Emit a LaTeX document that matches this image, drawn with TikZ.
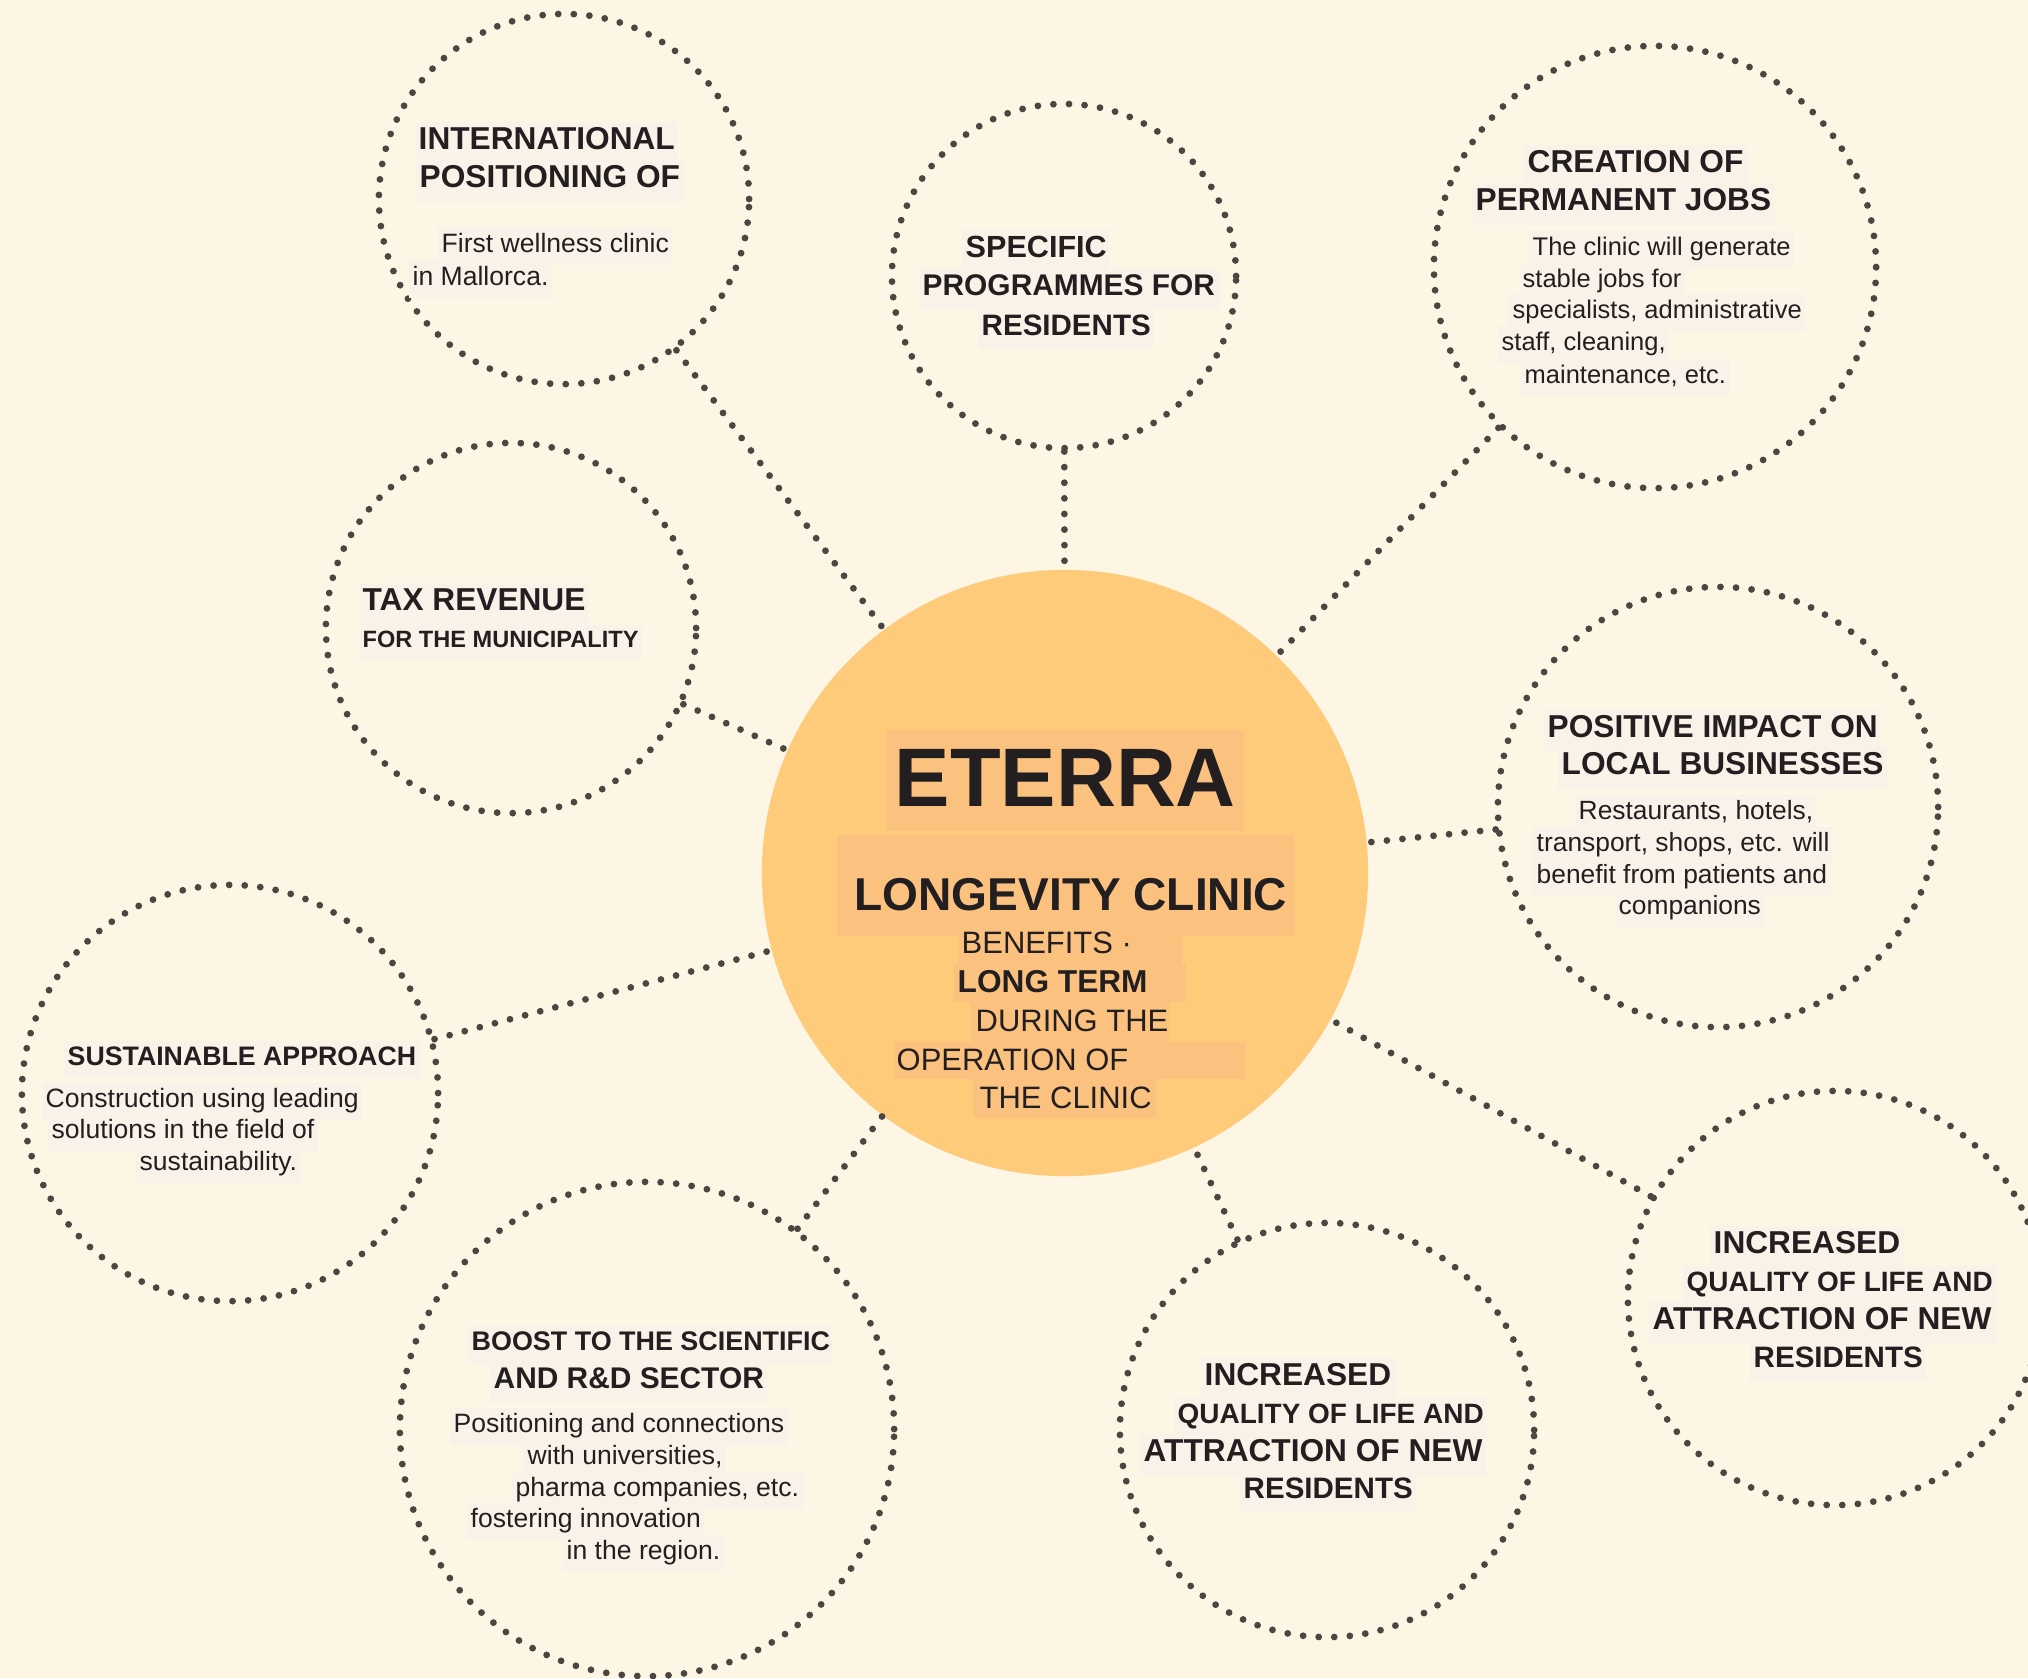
\documentclass[tikz,border=0pt]{standalone}
\usepackage{fontspec}
\setmainfont{Liberation Sans}
\definecolor{bgc}{HTML}{FEF6E4}
\definecolor{sunc}{HTML}{FDCB7A}
\definecolor{markc}{HTML}{FBC27F}
\definecolor{inkc}{HTML}{231F20}
\definecolor{dotc}{HTML}{4B4642}
\definecolor{shadec}{HTML}{FAF2E8}
\begin{document}
\begin{tikzpicture}[x=0.01cm, y=-0.01cm,
  bubble/.style={circle, draw=dotc, line width=0.068cm, dash pattern=on 0pt off 0.156cm, line cap=round, inner sep=0pt, minimum size=#1},
  link/.style={draw=dotc, line width=0.068cm, dash pattern=on 0pt off 0.156cm, line cap=round},
  hd/.style={anchor=base west, xshift=-1pt, inner xsep=1pt, inner ysep=1.5pt, fill=shadec, text=inkc, font=\fontsize{#1pt}{#1pt}\selectfont\bfseries, execute at begin node=\strut},
  tx/.style={anchor=base west, xshift=-1pt, inner xsep=1pt, inner ysep=1.5pt, fill=shadec, text=inkc, font=\fontsize{#1pt}{#1pt}\selectfont, execute at begin node=\strut},
  cbf/.style={anchor=base west, inner sep=0pt, text=inkc, font=\fontsize{#1pt}{#1pt}\selectfont\bfseries},
  ctx/.style={anchor=base west, inner sep=0pt, text=inkc, font=\fontsize{#1pt}{#1pt}\selectfont}]
% Hintergrund
\clip (0,0) rectangle (2028,1678);
\fill[bgc] (0,0) rectangle (2028,1678);
% Mittelkreis
\node[circle, fill=sunc, inner sep=0pt, minimum size=6.06cm] (Core) at (1065,873) {};
\foreach \xa/\ya/\xb/\yb in {886/730/1244/831, 837/835/1294/936, 958/936/1182/964, 954/964/1186/1002,
                             971/1002/1169/1042, 894/1042/1245/1079, 973/1079/1156/1118}
  \fill[markc] (\xa,\ya) rectangle (\xb,\yb);
% Kreise
\node[bubble=3.70cm] (Int)   at (564,199)   {};
\node[bubble=3.44cm] (Prog)  at (1064,276)  {};
\node[bubble=4.42cm] (Jobs)  at (1655,267)  {};
\node[bubble=3.70cm] (Tax)   at (511,628)   {};
\node[bubble=4.40cm] (Biz)   at (1718,807)  {};
\node[bubble=4.16cm] (Green) at (230,1093)  {};
\node[bubble=4.94cm] (RnD)   at (647,1429)  {};
\node[bubble=4.14cm] (LifeA) at (1327,1430) {};
\node[bubble=4.14cm] (LifeB) at (1835,1298) {};
% Verbindungen
\foreach \n in {Int, Prog, Jobs, Tax, Biz, Green, RnD, LifeA, LifeB}
  \draw[link] (\n) -- (Core);
% Mitte
\node[cbf=23.6] (Core1) at (894,806)  {ETERRA};
\node[cbf=13.1] (Core2) at (854,910)  {LONGEVITY CLINIC};
\node[ctx=8.8]  (Core3) at (961,953)  {BENEFITS ·};
\node[cbf=9]    (Core4) at (957,992)  {LONG TERM};
\node[ctx=8.8]  (Core5) at (975,1031) {DURING THE};
\node[ctx=8.8]  (Core6) at (896,1070) {OPERATION OF};
\node[ctx=8.8]  (Core7) at (979,1108) {THE CLINIC};
% International
\node[hd=9]    (Int1) at (418,149) {INTERNATIONAL};
\node[hd=9]    (Int2) at (419,187) {POSITIONING OF};
\node[tx=7.55] (Int3) at (441,252) {First wellness clinic};
\node[tx=7.55] (Int4) at (412,285) {in Mallorca.};
% Programme
\node[hd=8.7] (Prog1) at (965,257) {SPECIFIC};
\node[hd=8.5] (Prog2) at (922,295) {PROGRAMMES FOR};
\node[hd=8.4] (Prog3) at (981,335) {RESIDENTS};
% Arbeitsplaetze
\node[hd=9]    (Jobs1) at (1527,172) {CREATION OF};
\node[hd=9]    (Jobs2) at (1475,210) {PERMANENT JOBS};
\node[tx=7.25] (Jobs3) at (1532,255) {The clinic will generate};
\node[tx=7.25] (Jobs4) at (1522,287) {stable jobs for};
\node[tx=7.25] (Jobs5) at (1512,318) {specialists, administrative};
\node[tx=7.25] (Jobs6) at (1501,350) {staff, cleaning,};
\node[tx=7.25] (Jobs7) at (1524,383) {maintenance, etc.};
% Steuern
\node[hd=9]   (Tax1) at (362,610) {TAX REVENUE};
\node[hd=6.7] (Tax2) at (362,647) {FOR THE MUNICIPALITY};
% Lokale Betriebe
\node[hd=9]   (Biz1) at (1547,737) {POSITIVE IMPACT ON};
\node[hd=9]   (Biz2) at (1561,774) {LOCAL BUSINESSES};
\node[tx=7.5] (Biz3) at (1578,819) {Restaurants, hotels,};
\node[tx=7.5] (Biz4) at (1536,851) {transport, shops, etc. will};
\node[tx=7.5] (Biz5) at (1536,883) {benefit from patients and};
\node[tx=7.5] (Biz6) at (1618,914) {companions};
% Nachhaltigkeit
\node[hd=7.6]  (Green1) at (67,1065)  {SUSTAINABLE APPROACH};
\node[tx=7.55] (Green2) at (45,1107)  {Construction using leading};
\node[tx=7.55] (Green3) at (51,1138)  {solutions in the field of};
\node[tx=7.55] (Green4) at (139,1170) {sustainability.};
% Forschung
\node[hd=7.65] (RnD1) at (471,1350) {BOOST TO THE SCIENTIFIC};
\node[hd=8.5]  (RnD2) at (493,1388) {AND R\&D SECTOR};
\node[tx=7.55] (RnD3) at (453,1432) {Positioning and connections};
\node[tx=7.55] (RnD4) at (527,1464) {with universities,};
\node[tx=7.55] (RnD5) at (515,1496) {pharma companies, etc.};
\node[tx=7.55] (RnD6) at (470,1527) {fostering innovation};
\node[tx=7.55] (RnD7) at (566,1559) {in the region.};
% Lebensqualitaet (Mitte unten)
\node[hd=9]    (LifeA1) at (1204,1385) {INCREASED};
\node[hd=7.95] (LifeA2) at (1177,1423) {QUALITY OF LIFE AND};
\node[hd=9]    (LifeA3) at (1143,1461) {ATTRACTION OF NEW};
\node[hd=8.4]  (LifeA4) at (1243,1498) {RESIDENTS};
% Lebensqualitaet (rechts)
\node[hd=9]    (LifeB1) at (1713,1253) {INCREASED};
\node[hd=7.95] (LifeB2) at (1686,1291) {QUALITY OF LIFE AND};
\node[hd=9]    (LifeB3) at (1652,1329) {ATTRACTION OF NEW};
\node[hd=8.4]  (LifeB4) at (1753,1367) {RESIDENTS};
\end{tikzpicture}
\end{document}
